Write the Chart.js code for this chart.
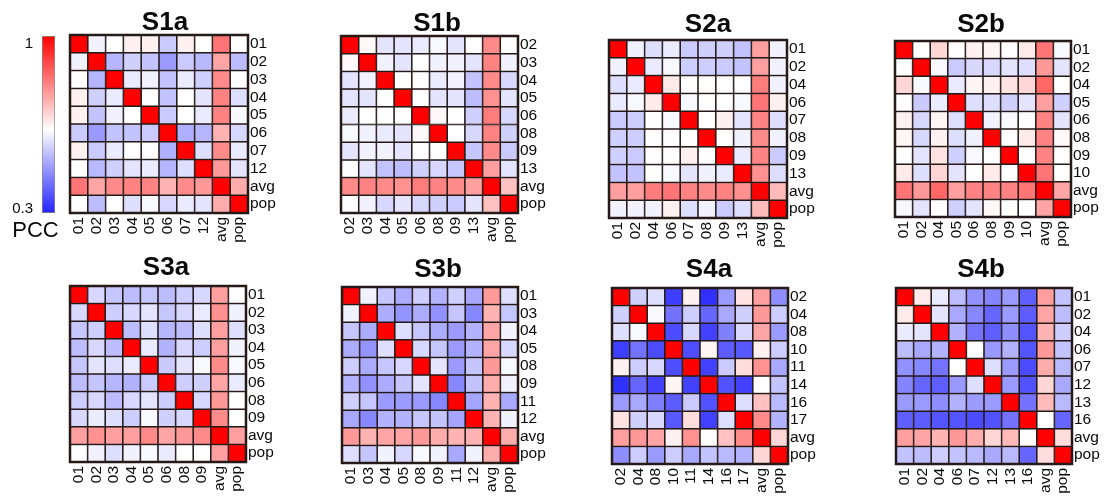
<!DOCTYPE html>
<html>
<head>
<meta charset="utf-8">
<script src="https://cdn.jsdelivr.net/npm/chart.js@4.4.1/dist/chart.umd.min.js"></script>
<style>
  html, body { margin: 0; padding: 0; background: #ffffff; }
  body { width: 1107px; height: 497px; position: relative; overflow: hidden; }
  canvas { position: absolute; }
</style>
</head>
<body>
<script>
// ---- Colour scale (PCC) ----
const pccRange = [0.3, 0.63, 1];          // low end, white point, high end
const pccTicks = [0.3, 1];
const pccTitle = 'PCC';

// ---- Panel data: row/column names and lower-triangle PCC values ----
const s1aLabels = ['01', '02', '03', '04', '05', '06', '07', '12', 'avg', 'pop'];
const s1aPcc = [
  [1],
  [0.61, 1],
  [0.63, 0.52, 1],
  [0.65, 0.56, 0.60, 1],
  [0.65, 0.54, 0.61, 0.63, 1],
  [0.55, 0.48, 0.54, 0.54, 0.55, 1],
  [0.65, 0.55, 0.60, 0.63, 0.63, 0.51, 1],
  [0.63, 0.525, 0.56, 0.59, 0.60, 0.52, 0.58, 1],
  [0.83, 0.76, 0.80, 0.81, 0.81, 0.74, 0.80, 0.78, 1],
  [0.63, 0.53, 0.63, 0.58, 0.62, 0.57, 0.60, 0.59, 0.75, 1]
];

const s1bLabels = ['02', '03', '04', '05', '06', '08', '09', '13', 'avg', 'pop'];
const s1bPcc = [
  [1],
  [0.64, 1],
  [0.59, 0.61, 1],
  [0.59, 0.59, 0.63, 1],
  [0.60, 0.63, 0.63, 0.63, 1],
  [0.62, 0.61, 0.60, 0.59, 0.64, 1],
  [0.59, 0.61, 0.61, 0.59, 0.63, 0.63, 1],
  [0.63, 0.59, 0.54, 0.53, 0.56, 0.57, 0.545, 1],
  [0.80, 0.81, 0.80, 0.79, 0.82, 0.81, 0.80, 0.77, 1],
  [0.63, 0.61, 0.57, 0.59, 0.57, 0.56, 0.55, 0.59, 0.72, 1]
];

const s2aLabels = ['01', '02', '04', '06', '07', '08', '09', '13', 'avg', 'pop'];
const s2aPcc = [
  [1],
  [0.61, 1],
  [0.58, 0.60, 1],
  [0.60, 0.62, 0.66, 1],
  [0.55, 0.555, 0.63, 0.62, 1],
  [0.56, 0.555, 0.63, 0.63, 0.63, 1],
  [0.56, 0.55, 0.63, 0.63, 0.65, 0.63, 1],
  [0.54, 0.54, 0.63, 0.62, 0.59, 0.61, 0.60, 1],
  [0.77, 0.77, 0.82, 0.83, 0.81, 0.80, 0.81, 0.79, 1],
  [0.61, 0.61, 0.61, 0.65, 0.58, 0.61, 0.55, 0.58, 0.73, 1]
];

const s2bLabels = ['01', '02', '04', '05', '06', '08', '09', '10', 'avg', 'pop'];
const s2bPcc = [
  [1],
  [0.63, 1],
  [0.69, 0.62, 1],
  [0.63, 0.55, 0.60, 1],
  [0.65, 0.57, 0.645, 0.58, 1],
  [0.645, 0.57, 0.65, 0.58, 0.61, 1],
  [0.63, 0.59, 0.67, 0.56, 0.62, 0.63, 1],
  [0.66, 0.58, 0.69, 0.59, 0.63, 0.66, 0.63, 1],
  [0.83, 0.78, 0.85, 0.77, 0.81, 0.81, 0.81, 0.83, 1],
  [0.62, 0.59, 0.63, 0.56, 0.59, 0.64, 0.63, 0.63, 0.76, 1]
];

const s3aLabels = ['01', '02', '03', '04', '05', '06', '08', '09', 'avg', 'pop'];
const s3aPcc = [
  [1],
  [0.57, 1],
  [0.545, 0.555, 1],
  [0.53, 0.57, 0.53, 1],
  [0.545, 0.59, 0.58, 0.60, 1],
  [0.53, 0.545, 0.52, 0.515, 0.55, 1],
  [0.555, 0.57, 0.53, 0.57, 0.59, 0.555, 1],
  [0.57, 0.60, 0.58, 0.555, 0.62, 0.56, 0.57, 1],
  [0.77, 0.79, 0.77, 0.77, 0.80, 0.76, 0.78, 0.80, 1],
  [0.63, 0.61, 0.58, 0.61, 0.62, 0.60, 0.63, 0.63, 0.77, 1]
];

const s3bLabels = ['01', '03', '04', '05', '08', '09', '11', '12', 'avg', 'pop'];
const s3bPcc = [
  [1],
  [0.61, 1],
  [0.545, 0.505, 1],
  [0.505, 0.47, 0.58, 1],
  [0.555, 0.505, 0.545, 0.57, 1],
  [0.515, 0.465, 0.505, 0.545, 0.59, 1],
  [0.56, 0.545, 0.48, 0.48, 0.48, 0.45, 1],
  [0.50, 0.45, 0.515, 0.515, 0.545, 0.54, 0.495, 1],
  [0.78, 0.74, 0.76, 0.76, 0.78, 0.75, 0.74, 0.74, 1],
  [0.58, 0.545, 0.61, 0.57, 0.62, 0.61, 0.50, 0.61, 0.75, 1]
];

const s4aLabels = ['02', '04', '08', '10', '11', '14', '16', '17', 'avg', 'pop'];
const s4aPcc = [
  [1],
  [0.56, 1],
  [0.58, 0.62, 1],
  [0.34, 0.42, 0.36, 1],
  [0.65, 0.555, 0.57, 0.365, 1],
  [0.32, 0.40, 0.345, 0.645, 0.345, 1],
  [0.48, 0.50, 0.44, 0.385, 0.55, 0.37, 1],
  [0.67, 0.56, 0.57, 0.38, 0.68, 0.345, 0.58, 1],
  [0.77, 0.78, 0.76, 0.65, 0.79, 0.63, 0.72, 0.80, 1],
  [0.46, 0.555, 0.48, 0.555, 0.50, 0.54, 0.525, 0.515, 0.69, 1]
];

const s4bLabels = ['01', '02', '04', '06', '07', '12', '13', '16', 'avg', 'pop'];
const s4bPcc = [
  [1],
  [0.66, 1],
  [0.60, 0.59, 1],
  [0.53, 0.50, 0.515, 1],
  [0.465, 0.45, 0.42, 0.63, 1],
  [0.445, 0.40, 0.39, 0.475, 0.58, 1],
  [0.48, 0.48, 0.46, 0.515, 0.48, 0.48, 1],
  [0.39, 0.385, 0.375, 0.375, 0.36, 0.37, 0.42, 1],
  [0.77, 0.76, 0.74, 0.78, 0.75, 0.69, 0.73, 0.63, 1],
  [0.54, 0.53, 0.555, 0.54, 0.525, 0.50, 0.525, 0.40, 0.68, 1]
];

// ---- Page layout: grid box [left, top, size] and title anchor [centre x, baseline] ----
const panels = [
  { title: 'S1a', labels: s1aLabels, pcc: s1aPcc, grid: [70, 35, 178],  titleAt: [165, 30] },
  { title: 'S1b', labels: s1bLabels, pcc: s1bPcc, grid: [341, 36, 177], titleAt: [437, 31] },
  { title: 'S2a', labels: s2aLabels, pcc: s2aPcc, grid: [609, 40, 178], titleAt: [708, 32] },
  { title: 'S2b', labels: s2bLabels, pcc: s2bPcc, grid: [895, 41, 176], titleAt: [981, 32] },
  { title: 'S3a', labels: s3aLabels, pcc: s3aPcc, grid: [70, 286, 176], titleAt: [166, 275] },
  { title: 'S3b', labels: s3bLabels, pcc: s3bPcc, grid: [342, 287, 176], titleAt: [438, 277] },
  { title: 'S4a', labels: s4aLabels, pcc: s4aPcc, grid: [612, 288, 176], titleAt: [709, 277] },
  { title: 'S4b', labels: s4bLabels, pcc: s4bPcc, grid: [896, 288, 176], titleAt: [981, 277] }
];

const FONT = "'Liberation Sans', Arial, Helvetica, sans-serif";
const INK = '#0a0a0a';
const LINE = '#241a17';
const PAD = { l: 12, t: 48, r: 50, b: 52 };

Chart.defaults.font.family = FONT;
Chart.defaults.color = INK;

// blue -> white -> red
const LOW = [35, 35, 255], MID = [255, 255, 255], HIGH = [255, 0, 0];
function pccColor(v) {
  const [lo, mid, hi] = pccRange;
  let a, b, t;
  if (v <= mid) { a = LOW; b = MID; t = (v - lo) / (mid - lo); }
  else { a = MID; b = HIGH; t = (v - mid) / (hi - mid); }
  t = Math.max(0, Math.min(1, t));
  const c = a.map((x, i) => Math.round(x + (b[i] - x) * t));
  return `rgb(${c[0]},${c[1]},${c[2]})`;
}

function makeCanvas(left, top, w, h) {
  const cv = document.createElement('canvas');
  cv.width = w; cv.height = h;
  cv.style.left = left + 'px'; cv.style.top = top + 'px';
  cv.style.width = w + 'px'; cv.style.height = h + 'px';
  document.body.appendChild(cv);
  return cv;
}

// dark frame round the cell grid
const gridFrame = {
  id: 'gridFrame',
  afterDatasetsDraw(chart) {
    const { ctx, chartArea: a } = chart;
    ctx.save();
    ctx.strokeStyle = LINE;
    ctx.lineWidth = 2.5;
    ctx.strokeRect(a.left, a.top, a.right - a.left, a.bottom - a.top);
    ctx.restore();
  }
};

// bold panel heading
const panelTitle = {
  id: 'panelTitle',
  afterDraw(chart, args, o) {
    const ctx = chart.ctx;
    ctx.save();
    ctx.font = `bold 26px ${FONT}`;
    ctx.fillStyle = INK;
    ctx.textAlign = 'center';
    ctx.textBaseline = 'alphabetic';
    ctx.fillText(o.text, o.x, o.y);
    ctx.restore();
  }
};

function heatmap(p) {
  const n = p.labels.length;
  const full = p.labels.map((_, r) => p.labels.map((_, c) => (r >= c ? p.pcc[r][c] : p.pcc[c][r])));
  const [gx, gy, gs] = p.grid;
  const left = gx - PAD.l, top = gy - PAD.t;
  const cv = makeCanvas(left, top, PAD.l + gs + PAD.r, PAD.t + gs + PAD.b);

  new Chart(cv, {
    type: 'bar',
    data: {
      labels: p.labels,
      datasets: p.labels.map((name, r) => ({
        label: name,
        data: p.labels.map(() => [n - 1 - r, n - r]),
        backgroundColor: full[r].map(pccColor)
      }))
    },
    options: {
      responsive: false,
      animation: false,
      devicePixelRatio: 1,
      layout: { padding: { left: PAD.l, top: PAD.t, right: 0, bottom: 0 } },
      datasets: {
        bar: {
          grouped: false,
          categoryPercentage: 1,
          barPercentage: 1,
          borderWidth: 1.1,
          borderColor: LINE,
          borderSkipped: false
        }
      },
      plugins: {
        legend: { display: false },
        tooltip: { enabled: false },
        panelTitle: { text: p.title, x: p.titleAt[0] - left, y: p.titleAt[1] - top }
      },
      scales: {
        x: {
          type: 'category',
          offset: true,
          grid: { display: false, drawTicks: false },
          border: { display: false },
          ticks: { minRotation: 90, maxRotation: 90, autoSkip: false, padding: 4, color: INK, font: { size: 15.5 } },
          afterFit: s => { s.height = PAD.b; }
        },
        y: {
          type: 'linear',
          position: 'right',
          min: 0,
          max: n,
          grid: { display: false, drawTicks: false },
          border: { display: false },
          afterBuildTicks: s => { s.ticks = p.labels.map((_, i) => ({ value: n - 0.5 - i })); },
          ticks: {
            autoSkip: false,
            padding: 2,
            color: INK,
            font: { size: 15.5 },
            callback: v => p.labels[Math.round(n - 0.5 - v)]
          },
          afterFit: s => { s.width = PAD.r; }
        }
      }
    },
    plugins: [gridFrame, panelTitle]
  });
}

panels.forEach(heatmap);

// ---- Colour bar ----
const colorbarText = {
  id: 'colorbarText',
  afterDraw(chart) {
    const { ctx, scales: { y }, chartArea: a } = chart;
    ctx.save();
    ctx.fillStyle = INK;
    ctx.textAlign = 'right';
    ctx.font = `15px ${FONT}`;
    ctx.textBaseline = 'alphabetic';
    // top label sits just inside the top of the bar, bottom label on the bar's base
    ctx.fillText(String(pccTicks[1]), a.left - 9, y.getPixelForValue(pccTicks[1]) + 12);
    ctx.fillText(String(pccTicks[0]), a.left - 9, y.getPixelForValue(pccTicks[0]));
    ctx.textAlign = 'center';
    ctx.font = `22px ${FONT}`;
    ctx.fillText(pccTitle, 35.5, a.bottom + 24);
    ctx.restore();
  }
};

const cb = makeCanvas(0, 0, 70, 250);
new Chart(cb, {
  type: 'bar',
  data: {
    labels: [pccTitle],
    datasets: [{
      data: [[pccRange[0], pccRange[2]]],
      backgroundColor: c => {
        const chart = c.chart;
        if (!chart.chartArea) return null;
        const y = chart.scales.y;
        const g = chart.ctx.createLinearGradient(0, y.getPixelForValue(pccRange[0]), 0, y.getPixelForValue(pccRange[2]));
        g.addColorStop(0, pccColor(pccRange[0]));
        g.addColorStop((pccRange[1] - pccRange[0]) / (pccRange[2] - pccRange[0]), pccColor(pccRange[1]));
        g.addColorStop(1, pccColor(pccRange[2]));
        return g;
      },
      borderColor: '#8a8a8a',
      borderWidth: 1,
      borderSkipped: false,
      categoryPercentage: 1,
      barPercentage: 1
    }]
  },
  options: {
    responsive: false,
    animation: false,
    devicePixelRatio: 1,
    layout: { padding: { left: 42, top: 36, right: 15, bottom: 37 } },
    plugins: { legend: { display: false }, tooltip: { enabled: false } },
    scales: {
      x: { display: false },
      y: { display: false, min: pccRange[0], max: pccRange[2] }
    }
  },
  plugins: [colorbarText]
});
</script>
</body>
</html>
